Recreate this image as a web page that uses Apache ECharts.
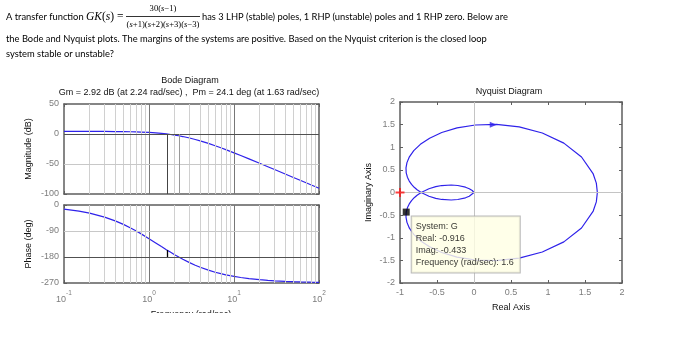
<!DOCTYPE html>
<html>
<head>
<meta charset="utf-8">
<script src="https://cdn.jsdelivr.net/npm/echarts@6/dist/echarts.min.js"></script>
<style>
  html, body { margin: 0; padding: 0; background: #fff; }
  #chart { width: 692px; height: 349px; }
</style>
</head>
<body>
<div id="chart"></div>
<script>
// Frequency response of GK(s) = 30(s-1) / ((s+1)(s+2)(s+3)(s-3))
const freqs = [0.1, 0.15, 0.2, 0.3, 0.4, 0.5, 0.6, 0.7, 0.8, 1.0, 1.2, 1.4, 1.6, 1.8, 2.0, 2.24, 2.5, 3, 3.5, 4,
  5, 6, 7, 8, 10, 12, 15, 20, 25, 30, 40, 50, 60, 80, 100];
const magDb = [4.42, 4.39, 4.36, 4.25, 4.11, 3.94, 3.72, 3.47, 3.20, 2.55, 1.81, 0.99, 0.11, -0.81, -1.77, -2.92, -4.23, -6.70, -9.11, -11.43,
  -15.71, -19.54, -22.97, -26.05, -31.38, -35.86, -41.44, -48.76, -54.49, -59.19, -66.64, -72.43, -77.17, -84.66, -90.47];
const phaseDeg = [-14.28, -21.35, -28.33, -41.93, -54.91, -67.17, -78.63, -89.27, -99.12, -116.57, -131.35, -143.92, -154.65, -163.88, -171.87, -180.0, -187.74, -199.44, -208.37, -215.36,
  -225.58, -232.64, -237.80, -241.71, -247.27, -251.01, -254.78, -258.57, -260.84, -262.37, -264.27, -265.42, -266.18, -267.14, -267.71];

// Bode grid lines (rad/sec)
const gridMinorFreqs = [0.2, 0.3, 0.4, 0.5, 0.6, 0.7, 0.8, 0.9, 2, 3, 4, 5, 6, 7, 8, 9, 20, 30, 40, 50, 60, 70, 80, 90];
const gridDecadeFreqs = [1, 10];

// Stability margins
const gainMargin = [2.92, 2.24];    // [dB, rad/sec]
const phaseMargin = [24.1, 1.63];   // [deg, rad/sec]

// Nyquist curve, positive frequencies (w = 0 ... inf)
const nyqPosRe = [1.667, 1.653, 1.611, 1.453, 1.214, 0.923, 0.611, 0.303, 0.019, -0.229, -0.436, -0.600, -0.725, -0.814, -0.873, -0.906, -0.919, -0.916,
  -0.900, -0.875, -0.844, -0.808, -0.769, -0.714, -0.609, -0.517, -0.436, -0.308, -0.219, -0.115, -0.064, -0.024, -0.005, -0.001, 0];
const nyqPosIm = [0, -0.208, -0.410, -0.784, -1.091, -1.314, -1.450, -1.505, -1.492, -1.427, -1.325, -1.200, -1.064, -0.925, -0.789, -0.660, -0.542, -0.434,
  -0.338, -0.253, -0.179, -0.115, -0.061, 0, 0.083, 0.129, 0.154, 0.166, 0.155, 0.117, 0.084, 0.044, 0.015, 0.004, 0];
// Nyquist curve, negative frequencies (w = -inf ... 0)
const nyqNegRe = [0, -0.001, -0.005, -0.024, -0.064, -0.115, -0.219, -0.308, -0.436, -0.517, -0.609, -0.714, -0.769, -0.808, -0.844, -0.875, -0.900,
  -0.916, -0.919, -0.906, -0.873, -0.814, -0.725, -0.600, -0.436, -0.229, 0.019, 0.303, 0.611, 0.923, 1.214, 1.453, 1.611, 1.653, 1.667];
const nyqNegIm = [0, -0.004, -0.015, -0.044, -0.084, -0.117, -0.155, -0.166, -0.154, -0.129, -0.083, 0, 0.061, 0.115, 0.179, 0.253, 0.338,
  0.434, 0.542, 0.660, 0.789, 0.925, 1.064, 1.200, 1.325, 1.427, 1.492, 1.505, 1.450, 1.314, 1.091, 0.784, 0.410, 0.208, 0];

const directionArrow = [0.26, 1.5];
const criticalPoint = [-1, 0];
const dataTip = [-0.916, -0.433, 1.6];  // [real, imag, rad/sec]

const FONT_UI = '"Liberation Sans", Arial, sans-serif';
const FONT_DOC = 'Lato, "Open Sans", sans-serif';
const FONT_MATH = '"Liberation Serif", "DejaVu Serif", serif';
const CURVE = '#2f22ea';
const AXIS = '#5e5e5e';
const LABEL = '#7c7c7c';
const DOC_SCALE = 0.935;   // condenses the body text

const pairs = (xs, ys) => xs.map((x, i) => [x, ys[i]]);

const axisLine = { show: true, onZero: false, lineStyle: { color: AXIS, width: 1.5 } };
const axisTick = { show: true, inside: true, length: 3, lineStyle: { color: AXIS, width: 1 } };
const tickLabel = { color: LABEL, fontSize: 9, fontFamily: FONT_UI };
const nameStyle = { color: '#111', fontSize: 9, fontFamily: FONT_UI };

function logAxis(gridIndex, position, withLabels) {
  return {
    type: 'log', logBase: 10, min: 0.1, max: 100, gridIndex, position,
    axisLine, axisTick, splitLine: { show: false },
    axisLabel: withLabels ? {
      margin: 7, showMinLabel: true, showMaxLabel: true,
      formatter: v => '{b|10}{s|' + Math.round(Math.log10(v)) + '}',
      rich: {
        b: { color: LABEL, fontSize: 9, fontFamily: FONT_UI, lineHeight: 14, verticalAlign: 'bottom' },
        s: { color: LABEL, fontSize: 6.5, fontFamily: FONT_UI, lineHeight: 14, verticalAlign: 'top' }
      }
    } : { show: false }
  };
}
function valueAxis(gridIndex, position, min, max, interval, withLabels, extra) {
  return Object.assign({
    type: 'value', gridIndex, position, min, max, interval,
    axisLine, axisTick, splitLine: { show: false },
    axisLabel: withLabels ? Object.assign({ margin: 5, showMinLabel: true, showMaxLabel: true }, tickLabel) : { show: false }
  }, extra || {});
}

function vLines(values, color) {
  return values.map(v => ({ xAxis: v, lineStyle: { color, width: 1, type: 'solid' } }));
}
function hLines(values, color) {
  return values.map(v => ({ yAxis: v, lineStyle: { color, width: 1, type: 'solid' } }));
}
function gridLayer(xi, yi, lines) {
  return {
    type: 'line', xAxisIndex: xi, yAxisIndex: yi, data: [], z: 1, silent: true,
    markLine: { silent: true, symbol: 'none', label: { show: false }, animation: false, data: lines }
  };
}
function docText(x, y, text) {
  return { type: 'text', x, y, scaleX: DOC_SCALE, style: { text, font: '10px ' + FONT_DOC, fill: '#000', verticalAlign: 'middle' } };
}

const option = {
  animation: false,
  backgroundColor: '#fff',
  grid: [
    { left: 64, top: 104, width: 255, height: 90 },
    { left: 64, top: 205, width: 255, height: 78 },
    { left: 400, top: 102, width: 222, height: 181 }
  ],
  xAxis: [
    logAxis(0, 'bottom', false),
    logAxis(0, 'top', false),
    logAxis(1, 'bottom', true),
    logAxis(1, 'top', false),
    valueAxis(2, 'bottom', -1, 2, 0.5, true, {
      name: 'Real Axis', nameLocation: 'middle', nameGap: 20, nameTextStyle: nameStyle
    }),
    valueAxis(2, 'top', -1, 2, 0.5, false)
  ],
  yAxis: [
    valueAxis(0, 'left', -100, 50, 50, true, {
      name: 'Magnitude (dB)', nameLocation: 'middle', nameGap: 31, nameRotate: 90, nameTextStyle: nameStyle
    }),
    valueAxis(0, 'right', -100, 50, 50, false),
    valueAxis(1, 'left', -270, 0, 90, true, {
      name: 'Phase (deg)', nameLocation: 'middle', nameGap: 31, nameRotate: 90, nameTextStyle: nameStyle
    }),
    valueAxis(1, 'right', -270, 0, 90, false),
    valueAxis(2, 'left', -2, 2, 0.5, true, {
      name: 'Imaginary Axis', nameLocation: 'middle', nameGap: 27, nameRotate: 90, nameTextStyle: nameStyle
    }),
    valueAxis(2, 'right', -2, 2, 0.5, false)
  ],
  series: [
    // magnitude grid and margin guides
    gridLayer(0, 0, [].concat(
      vLines(gridMinorFreqs, '#d0d0d0'),
      vLines(gridDecadeFreqs, '#777'),
      hLines([-50], '#c8c8c8'),
      hLines([0], '#505050'),
      [
        [{ coord: [phaseMargin[1], 0], lineStyle: { color: '#444', width: 1, type: 'solid' } }, { coord: [phaseMargin[1], -100] }],
        [{ coord: [gainMargin[1], 0], lineStyle: { color: '#999', width: 1, type: 'solid' } }, { coord: [gainMargin[1], -100] }]
      ]
    )),
    {
      type: 'line', xAxisIndex: 0, yAxisIndex: 0, z: 3, symbol: 'none', silent: true,
      lineStyle: { color: CURVE, width: 1.2 }, data: pairs(freqs, magDb)
    },
    // phase grid and margin guides
    gridLayer(2, 2, [].concat(
      vLines(gridMinorFreqs, '#d0d0d0'),
      vLines(gridDecadeFreqs, '#777'),
      hLines([-90], '#c8c8c8'),
      hLines([-180], '#505050')
    )),
    {
      type: 'line', xAxisIndex: 2, yAxisIndex: 2, z: 3, symbol: 'none', silent: true,
      lineStyle: { color: CURVE, width: 1.2 }, data: pairs(freqs, phaseDeg)
    },
    {
      type: 'line', xAxisIndex: 2, yAxisIndex: 2, data: [], z: 4, silent: true,
      markLine: {
        silent: true, symbol: 'none', label: { show: false }, animation: false,
        data: [[{ coord: [phaseMargin[1], -180], lineStyle: { color: '#000', width: 1.3, type: 'solid' } },
                { coord: [phaseMargin[1], -180 + phaseMargin[0]] }]]
      }
    },
    // Nyquist zero lines
    gridLayer(4, 4, [].concat(vLines([0], '#c4c4c4'), hLines([0], '#c4c4c4'))),
    {
      type: 'line', xAxisIndex: 4, yAxisIndex: 4, z: 3, symbol: 'none', silent: true,
      lineStyle: { color: CURVE, width: 1.2 }, data: pairs(nyqPosRe, nyqPosIm)
    },
    {
      type: 'line', xAxisIndex: 4, yAxisIndex: 4, z: 3, symbol: 'none', silent: true,
      lineStyle: { color: CURVE, width: 1.2 }, data: pairs(nyqNegRe, nyqNegIm)
    },
    {
      type: 'scatter', xAxisIndex: 4, yAxisIndex: 4, z: 4, silent: true,
      symbol: 'triangle', symbolSize: [6, 7], symbolRotate: -90,
      itemStyle: { color: CURVE }, data: [directionArrow]
    },
    {
      type: 'scatter', xAxisIndex: 4, yAxisIndex: 4, z: 5, silent: true,
      symbol: 'path://M4,0H6V4H10V6H6V10H4V6H0V4H4Z', symbolSize: 9,
      itemStyle: { color: '#ff1010' }, data: [criticalPoint]
    },
    {
      type: 'scatter', xAxisIndex: 4, yAxisIndex: 4, z: 6, silent: true,
      symbol: 'rect', symbolSize: 7, itemStyle: { color: '#000' },
      data: [[dataTip[0], dataTip[1]]],
      label: {
        show: true, position: [9, 8], align: 'left', verticalAlign: 'top',
        formatter: () => ['System: G', 'Real: ' + dataTip[0].toFixed(3), 'Imag: ' + dataTip[1].toFixed(3),
          'Frequency (rad/sec): ' + dataTip[2]].join('\n'),
        color: '#000', fontSize: 9, fontFamily: FONT_UI, lineHeight: 12,
        backgroundColor: '#ffffe4', borderColor: '#a8a8a8', borderWidth: 1,
        padding: [4, 6, 4, 4]
      }
    }
  ],
  graphic: [
    // question text
    docText(6, 17, 'A transfer function'),
    { type: 'text', x: 86, y: 17, style: {
        text: '{i|GK}({i|s}) =', font: '11.5px ' + FONT_MATH, fill: '#000', verticalAlign: 'middle',
        rich: { i: { fontStyle: 'italic', fontSize: 11.5, fontFamily: FONT_MATH } } } },
    { type: 'text', x: 163, y: 9, style: {
        text: '30({i|s}−1)', font: '8.6px ' + FONT_MATH, fill: '#000', align: 'center', verticalAlign: 'middle',
        rich: { i: { fontStyle: 'italic', fontSize: 8.6, fontFamily: FONT_MATH } } } },
    { type: 'line', shape: { x1: 126, y1: 16.5, x2: 200, y2: 16.5 }, style: { stroke: '#000', lineWidth: 0.8 } },
    { type: 'text', x: 163, y: 25, style: {
        text: '({i|s}+1)({i|s}+2)({i|s}+3)({i|s}−3)', font: '8.6px ' + FONT_MATH, fill: '#000', align: 'center', verticalAlign: 'middle',
        rich: { i: { fontStyle: 'italic', fontSize: 8.6, fontFamily: FONT_MATH } } } },
    docText(202, 17, 'has 3 LHP (stable) poles, 1 RHP (unstable) poles and 1 RHP zero. Below are'),
    docText(6, 39, 'the Bode and Nyquist plots. The margins of the systems are positive. Based on the Nyquist criterion is the closed loop'),
    docText(6, 54, 'system stable or unstable?'),
    // chart titles
    { type: 'text', x: 190, y: 81, style: { text: 'Bode Diagram', font: '9px ' + FONT_UI, fill: '#111', align: 'center', verticalAlign: 'middle' } },
    { type: 'text', x: 189, y: 93, style: { text: 'Gm = 2.92 dB (at 2.24 rad/sec) ,  Pm = 24.1 deg (at 1.63 rad/sec)', font: '9px ' + FONT_UI, fill: '#111', align: 'center', verticalAlign: 'middle' } },
    { type: 'text', x: 509, y: 92, style: { text: 'Nyquist Diagram', font: '9px ' + FONT_UI, fill: '#111', align: 'center', verticalAlign: 'middle' } },
    // frequency axis title, trimmed at the bottom edge of the figure
    { type: 'text', x: 191, y: 310, z: 1, style: { text: 'Frequency (rad/sec)', font: '9px ' + FONT_UI, fill: '#111', align: 'center', verticalAlign: 'top' } },
    { type: 'rect', z: 2, shape: { x: 0, y: 313, width: 340, height: 40 }, style: { fill: '#fff' } }
  ]
};

const chart = echarts.init(document.getElementById('chart'), null, { renderer: 'canvas' });
chart.setOption(option);
</script>
</body>
</html>
